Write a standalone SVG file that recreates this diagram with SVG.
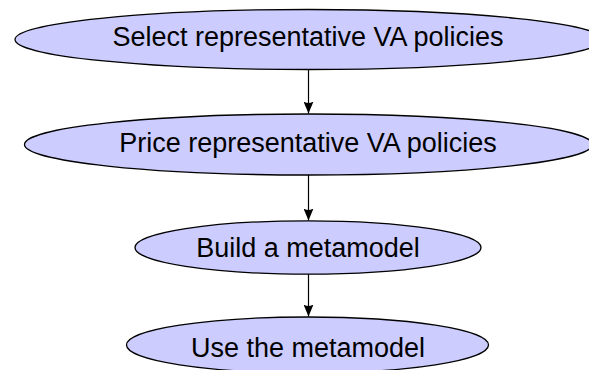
<svg xmlns="http://www.w3.org/2000/svg" width="589" height="370" viewBox="0 0 589 370">
<style>
.node ellipse{fill:#ccccff;stroke:#000;stroke-width:1.3}
.node text{font-family:"Liberation Sans",Arial,sans-serif;font-size:27px;fill:#000;text-anchor:middle}
.edge{stroke:#000;stroke-width:1.2;fill:none;marker-end:url(#arr)}
</style>
<defs>
<marker id="arr" viewBox="0 0 12 10" refX="12" refY="5" markerWidth="12" markerHeight="10" markerUnits="userSpaceOnUse" orient="auto">
<path d="M0,0 L12,5 L0,10 Q3,5 0,0 Z" fill="#000"/>
</marker>
</defs>
<g id="n1" class="node">
<ellipse cx="308.5" cy="39.5" rx="293.5" ry="30"/>
<text x="308" y="46">Select representative VA policies</text>
</g>
<g id="n2" class="node">
<ellipse cx="308.5" cy="144.5" rx="284" ry="30.5"/>
<text x="308" y="152">Price representative VA policies</text>
</g>
<g id="n3" class="node">
<ellipse cx="308" cy="247.5" rx="173" ry="26.7"/>
<text x="308" y="256.5">Build a metamodel</text>
</g>
<g id="n4" class="node">
<ellipse cx="307.5" cy="345" rx="181" ry="28"/>
<text x="308" y="357">Use the metamodel</text>
</g>
<g id="edges">
<line class="edge" x1="308.5" y1="69.5" x2="308.5" y2="113.5"/>
<line class="edge" x1="308.5" y1="175" x2="308.5" y2="220.5"/>
<line class="edge" x1="308.5" y1="274" x2="308.5" y2="316.5"/>
</g>
</svg>
